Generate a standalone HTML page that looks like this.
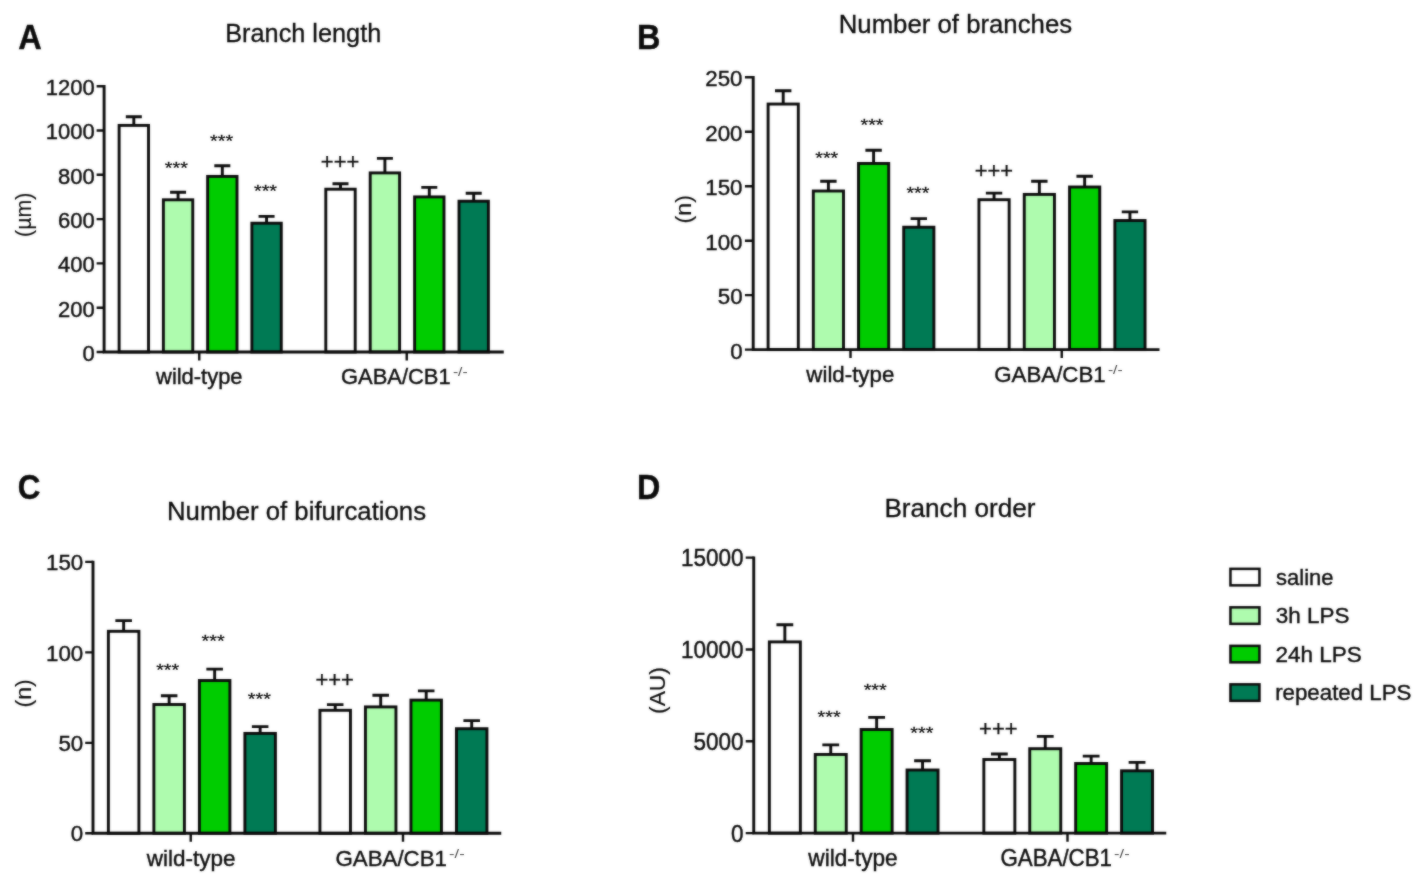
<!DOCTYPE html>
<html lang="en"><head><meta charset="utf-8"><title>Microglia morphology</title>
<style>html,body{margin:0;padding:0;background:#fff}body{width:1424px;height:884px;overflow:hidden}svg{display:block}text{font-family:"Liberation Sans",Arial,Helvetica,sans-serif;fill:#0a0a0a;stroke:#0a0a0a;stroke-width:0.4px}.p{font-weight:bold}.s{fill:#444;stroke:none}.a{stroke-width:0.25px}.t{stroke-width:0.3px}.v{stroke-width:0.15px}.k{stroke:#0a0a0a;stroke-width:2.9;fill:none}.b{stroke:#0a0a0a;stroke-width:2.9}</style></head><body>
<svg width="1424" height="884" viewBox="0 0 1424 884">
<defs><filter id="soft" x="0" y="0" width="1424" height="884" filterUnits="userSpaceOnUse" color-interpolation-filters="sRGB"><feGaussianBlur in="SourceGraphic" stdDeviation="0.8" result="b"/><feComposite in="SourceGraphic" in2="b" operator="arithmetic" k1="0" k2="0.5" k3="0.5" k4="0"/></filter></defs>
<g filter="url(#soft)">
<rect width="1424" height="884" fill="#fff"/>
<g>
<text class="p" font-size="34.5" transform="translate(18.29 49.1) scale(0.943 1)">A</text>
<text class="t" font-size="25.4" transform="translate(225.26 42.2) scale(0.996 1)">Branch length</text>
<path class="k" d="M133.82 125.4V116.8M125.82 116.8H141.82"/>
<rect class="b" x="119.12" y="125.4" width="29.4" height="226.6" fill="#ffffff"/>
<path class="k" d="M178.07 199.8V192.3M170.07 192.3H186.07"/>
<rect class="b" x="163.37" y="199.8" width="29.4" height="152.2" fill="#aefbae"/>
<path class="k" d="M222.32 176.4V165.8M214.32 165.8H230.32"/>
<rect class="b" x="207.62" y="176.4" width="29.4" height="175.6" fill="#00cc00"/>
<path class="k" d="M266.57 223.2V216.4M258.57 216.4H274.57"/>
<rect class="b" x="251.87" y="223.2" width="29.4" height="128.8" fill="#007a54"/>
<path class="k" d="M340.5 189.2V183.7M332.5 183.7H348.5"/>
<rect class="b" x="325.8" y="189.2" width="29.4" height="162.8" fill="#ffffff"/>
<path class="k" d="M384.9 172.9V158.4M376.9 158.4H392.9"/>
<rect class="b" x="370.2" y="172.9" width="29.4" height="179.1" fill="#aefbae"/>
<path class="k" d="M429.3 196.9V187.4M421.3 187.4H437.3"/>
<rect class="b" x="414.6" y="196.9" width="29.4" height="155.1" fill="#00cc00"/>
<path class="k" d="M473.7 201.2V193.2M465.7 193.2H481.7"/>
<rect class="b" x="459" y="201.2" width="29.4" height="150.8" fill="#007a54"/>
<path class="k" d="M104.1 85V352H503.75"/>
<path class="k" style="stroke-width:2.4" d="M96.6 352H104.1M96.6 307.7H104.1M96.6 263.4H104.1M96.6 219.1H104.1M96.6 174.8H104.1M96.6 130.5H104.1M96.6 86.2H104.1M199.25 352V360.5M406.75 352V360.5"/>
<text font-size="22" transform="translate(82.52 360.89) scale(1.000 1)">0</text>
<text font-size="22" transform="translate(58.04 316.59) scale(1.000 1)">200</text>
<text font-size="22" transform="translate(58.04 272.29) scale(1.000 1)">400</text>
<text font-size="22" transform="translate(58.04 227.99) scale(1.000 1)">600</text>
<text font-size="22" transform="translate(58.04 183.69) scale(1.000 1)">800</text>
<text font-size="22" transform="translate(45.83 139.39) scale(1.000 1)">1000</text>
<text font-size="22" transform="translate(45.83 95.09) scale(1.000 1)">1200</text>
<text class="a" font-size="16.5" transform="translate(164.8 174.16) scale(1.199 1)">***</text>
<text class="a" font-size="16.5" transform="translate(210.1 147.26) scale(1.199 1)">***</text>
<text class="a" font-size="16.5" transform="translate(253.95 197.06) scale(1.199 1)">***</text>
<text class="t" font-size="22" transform="translate(320.85 168.91) scale(0.996 1)">+++</text>
<text font-size="22" transform="translate(156.05 383.8) scale(0.997 1)">wild-type</text>
<text font-size="22" transform="translate(341 383.8) scale(0.997 1)">GABA/CB1</text>
<text class="s" font-size="13" transform="translate(452.9 376) scale(1.196 1)">-/-</text>
<text class="v" font-size="21.5" transform="translate(25.2 214.8) rotate(-90) scale(0.990 1)" x="-22.31" y="5.56">(µm)</text>
</g>
<g>
<text class="p" font-size="34.5" transform="translate(636.91 48.9) scale(0.941 1)">B</text>
<text class="t" font-size="26.03" transform="translate(838.72 33.25) scale(0.990 1)">Number of branches</text>
<path class="k" d="M783.2 104.05V90.8M775 90.8H791.4"/>
<rect class="b" x="768.1" y="104.05" width="30.21" height="245.55" fill="#ffffff"/>
<path class="k" d="M828.4 191V181.3M820.2 181.3H836.6"/>
<rect class="b" x="813.3" y="191" width="30.21" height="158.6" fill="#aefbae"/>
<path class="k" d="M873.6 163.45V150.2M865.4 150.2H881.8"/>
<rect class="b" x="858.5" y="163.45" width="30.21" height="186.15" fill="#00cc00"/>
<path class="k" d="M918.8 227.2V218.6M910.6 218.6H927"/>
<rect class="b" x="903.7" y="227.2" width="30.21" height="122.4" fill="#007a54"/>
<path class="k" d="M994.05 199.7V193.15M985.85 193.15H1002.25"/>
<rect class="b" x="978.95" y="199.7" width="30.21" height="149.9" fill="#ffffff"/>
<path class="k" d="M1039.35 194.4V181.3M1031.15 181.3H1047.55"/>
<rect class="b" x="1024.25" y="194.4" width="30.21" height="155.2" fill="#aefbae"/>
<path class="k" d="M1084.65 187V176.3M1076.45 176.3H1092.85"/>
<rect class="b" x="1069.55" y="187" width="30.21" height="162.6" fill="#00cc00"/>
<path class="k" d="M1129.95 220.5V211.9M1121.75 211.9H1138.15"/>
<rect class="b" x="1114.85" y="220.5" width="30.21" height="129.1" fill="#007a54"/>
<path class="k" d="M753.2 76.1V349.6H1159.5"/>
<path class="k" style="stroke-width:2.4" d="M744.9 349.6H753.2M744.9 295.14H753.2M744.9 240.68H753.2M744.9 186.22H753.2M744.9 131.76H753.2M744.9 77.3H753.2M850.5 349.6V358.1M1061.75 349.6V358.1"/>
<text font-size="22.55" transform="translate(730.15 358.58) scale(0.990 1)">0</text>
<text font-size="22.55" transform="translate(717.76 304.12) scale(0.990 1)">50</text>
<text font-size="22.55" transform="translate(705.31 249.66) scale(0.990 1)">100</text>
<text font-size="22.55" transform="translate(705.31 195.2) scale(0.990 1)">150</text>
<text font-size="22.55" transform="translate(705.31 140.74) scale(0.990 1)">200</text>
<text font-size="22.55" transform="translate(705.31 86.28) scale(0.990 1)">250</text>
<text class="a" font-size="16.5" transform="translate(815.2 164.46) scale(1.199 1)">***</text>
<text class="a" font-size="16.5" transform="translate(860.45 131.06) scale(1.199 1)">***</text>
<text class="a" font-size="16.5" transform="translate(906.4 198.61) scale(1.199 1)">***</text>
<text class="t" font-size="22" transform="translate(974.75 177.81) scale(0.996 1)">+++</text>
<text font-size="22.55" transform="translate(806.35 381.5) scale(0.989 1)">wild-type</text>
<text font-size="22.55" transform="translate(994.24 381.5) scale(0.989 1)">GABA/CB1</text>
<text class="s" font-size="13" transform="translate(1107.9 373.7) scale(1.196 1)">-/-</text>
<text class="v" font-size="21.5" transform="translate(685.5 209.2) rotate(-90) scale(1.081 1)" x="-13.14" y="5.56">(n)</text>
</g>
<g>
<text class="p" font-size="34.5" transform="translate(17.85 498.6) scale(0.909 1)">C</text>
<text class="t" font-size="26.29" transform="translate(166.98 519.5) scale(0.980 1)">Number of bifurcations</text>
<path class="k" d="M123.65 631.3V620.65M115.37 620.65H131.93"/>
<rect class="b" x="108.38" y="631.3" width="30.53" height="202" fill="#ffffff"/>
<path class="k" d="M169.15 704.5V695.8M160.87 695.8H177.43"/>
<rect class="b" x="153.88" y="704.5" width="30.53" height="128.8" fill="#aefbae"/>
<path class="k" d="M214.65 680.5V669.1M206.37 669.1H222.93"/>
<rect class="b" x="199.38" y="680.5" width="30.53" height="152.8" fill="#00cc00"/>
<path class="k" d="M260.15 733.4V726.6M251.87 726.6H268.43"/>
<rect class="b" x="244.88" y="733.4" width="30.53" height="99.9" fill="#007a54"/>
<path class="k" d="M335.2 710.3V704.6M326.92 704.6H343.48"/>
<rect class="b" x="319.93" y="710.3" width="30.53" height="123" fill="#ffffff"/>
<path class="k" d="M380.7 706.9V695.2M372.42 695.2H388.98"/>
<rect class="b" x="365.43" y="706.9" width="30.53" height="126.4" fill="#aefbae"/>
<path class="k" d="M426.2 700.1V690.9M417.92 690.9H434.48"/>
<rect class="b" x="410.93" y="700.1" width="30.53" height="133.2" fill="#00cc00"/>
<path class="k" d="M471.7 728.7V720.6M463.42 720.6H479.98"/>
<rect class="b" x="456.43" y="728.7" width="30.53" height="104.6" fill="#007a54"/>
<path class="k" d="M93 560.7V833.3H501.25"/>
<path class="k" style="stroke-width:2.4" d="M85.2 833.3H93M85.2 742.83H93M85.2 652.37H93M85.2 561.9H93M190.75 833.3V841.8M403 833.3V841.8"/>
<text font-size="22.77" transform="translate(70.85 841.46) scale(0.980 1)">0</text>
<text font-size="22.77" transform="translate(58.47 750.99) scale(0.980 1)">50</text>
<text font-size="22.77" transform="translate(46.03 660.53) scale(0.980 1)">100</text>
<text font-size="22.77" transform="translate(46.03 570.06) scale(0.980 1)">150</text>
<text class="a" font-size="16.5" transform="translate(156.15 675.96) scale(1.199 1)">***</text>
<text class="a" font-size="16.5" transform="translate(201.55 646.66) scale(1.199 1)">***</text>
<text class="a" font-size="16.5" transform="translate(247.75 705.46) scale(1.199 1)">***</text>
<text class="t" font-size="22" transform="translate(315.4 686.82) scale(0.996 1)">+++</text>
<text font-size="22.77" transform="translate(146.75 865.7) scale(0.989 1)">wild-type</text>
<text font-size="22.77" transform="translate(335.49 865.7) scale(0.979 1)">GABA/CB1</text>
<text class="s" font-size="13" transform="translate(449.11 857.9) scale(1.263 1)">-/-</text>
<text class="v" font-size="21.5" transform="translate(25.6 693.4) rotate(-90) scale(1.081 1)" x="-13.14" y="5.56">(n)</text>
</g>
<g>
<text class="p" font-size="34.5" transform="translate(636.92 498.9) scale(0.937 1)">D</text>
<text class="t" font-size="26.67" transform="translate(884.44 517) scale(0.980 1)">Branch order</text>
<path class="k" d="M784.85 641.9V624.8M776.45 624.8H793.25"/>
<rect class="b" x="769.34" y="641.9" width="31.02" height="191.25" fill="#ffffff"/>
<path class="k" d="M830.75 754.45V744.9M822.35 744.9H839.15"/>
<rect class="b" x="815.24" y="754.45" width="31.02" height="78.7" fill="#aefbae"/>
<path class="k" d="M876.65 729.5V717.4M868.25 717.4H885.05"/>
<rect class="b" x="861.14" y="729.5" width="31.02" height="103.65" fill="#00cc00"/>
<path class="k" d="M922.55 770V760.8M914.15 760.8H930.95"/>
<rect class="b" x="907.04" y="770" width="31.02" height="63.15" fill="#007a54"/>
<path class="k" d="M999.35 759.5V754M990.95 754H1007.75"/>
<rect class="b" x="983.84" y="759.5" width="31.02" height="73.65" fill="#ffffff"/>
<path class="k" d="M1045.25 748.7V736.4M1036.85 736.4H1053.65"/>
<rect class="b" x="1029.74" y="748.7" width="31.02" height="84.45" fill="#aefbae"/>
<path class="k" d="M1091.15 763.5V756.1M1082.75 756.1H1099.55"/>
<rect class="b" x="1075.64" y="763.5" width="31.02" height="69.65" fill="#00cc00"/>
<path class="k" d="M1137.05 770.8V762.4M1128.65 762.4H1145.45"/>
<rect class="b" x="1121.54" y="770.8" width="31.02" height="62.35" fill="#007a54"/>
<path class="k" d="M753.75 556.4V833.15H1166.25"/>
<path class="k" style="stroke-width:2.4" d="M745.7 833.15H753.75M745.7 741.3H753.75M745.7 649.45H753.75M745.7 557.6H753.75M853 833.15V841.65M1067.5 833.15V841.65"/>
<text font-size="23.1" transform="translate(731.04 841.63) scale(0.975 1)">0</text>
<text font-size="23.1" transform="translate(693.49 749.78) scale(0.975 1)">5000</text>
<text font-size="23.1" transform="translate(680.93 657.93) scale(0.975 1)">10000</text>
<text font-size="23.1" transform="translate(680.93 566.08) scale(0.975 1)">15000</text>
<text class="a" font-size="16.5" transform="translate(817.5 723.26) scale(1.199 1)">***</text>
<text class="a" font-size="16.5" transform="translate(863.65 696.06) scale(1.199 1)">***</text>
<text class="a" font-size="16.5" transform="translate(910.35 739.31) scale(1.199 1)">***</text>
<text class="t" font-size="22" transform="translate(979.1 736.37) scale(0.996 1)">+++</text>
<text font-size="23.1" transform="translate(808.35 865.7) scale(0.980 1)">wild-type</text>
<text font-size="23.1" transform="translate(1000.49 865.7) scale(0.965 1)">GABA/CB1</text>
<text class="s" font-size="13" transform="translate(1114.11 857.9) scale(1.263 1)">-/-</text>
<text class="v" font-size="21.5" transform="translate(659.4 690.5) rotate(-90) scale(1.060 1)" x="-22.09" y="5.56">(AU)</text>
</g>
<g>
<rect class="b" style="stroke-width:2.5" x="1230.45" y="568.85" width="29" height="16.5" fill="#ffffff"/>
<text font-size="22.66" transform="translate(1276.05 584.9) scale(0.970 1)">saline</text>
<rect class="b" style="stroke-width:2.5" x="1230.45" y="607.35" width="29" height="16.5" fill="#aefbae"/>
<text font-size="22.66" transform="translate(1275.81 623.4) scale(0.990 1)">3h LPS</text>
<rect class="b" style="stroke-width:2.5" x="1230.45" y="645.85" width="29" height="16.5" fill="#00cc00"/>
<text font-size="22.66" transform="translate(1275.52 661.9) scale(0.994 1)">24h LPS</text>
<rect class="b" style="stroke-width:2.5" x="1230.45" y="684.35" width="29" height="16.5" fill="#007a54"/>
<text font-size="22.66" transform="translate(1275.15 700.4) scale(0.984 1)">repeated LPS</text>
</g>
</g>
</svg></body></html>
